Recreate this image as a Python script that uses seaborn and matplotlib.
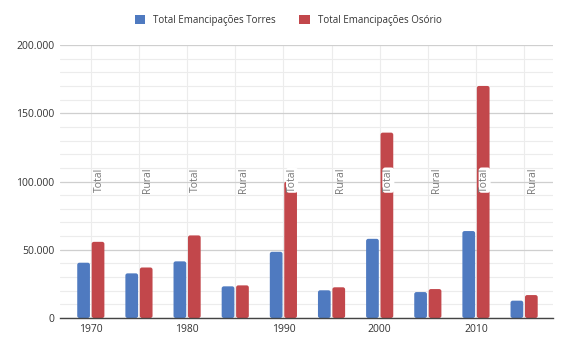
import matplotlib
matplotlib.use("Agg")
import matplotlib.pyplot as plt
import seaborn as sns
import pandas as pd
import numpy as np
from matplotlib.patches import FancyBboxPatch
from matplotlib.ticker import FuncFormatter, MultipleLocator

decades = ["1970", "1980", "1990", "2000", "2010"]
kinds = ["Total", "Rural"]
categories = [f"{d} {k}" for d in decades for k in kinds]
torres = [40500, 32700, 41500, 23200, 48500, 20300, 58000, 19000, 63700, 12700]
osorio = [55800, 37000, 60500, 23900, 99800, 22500, 135800, 21200, 170000, 16800]
series_names = ["Total Emancipações Torres", "Total Emancipações Osório"]
colors = ["#4F7AC0", "#C2474B"]

df = pd.DataFrame({
    "cat": categories * 2,
    "value": torres + osorio,
    "serie": [series_names[0]] * len(categories) + [series_names[1]] * len(categories),
})

sns.set_theme(style="white")
plt.rcParams["font.family"] = ["Open Sans", "DejaVu Sans"]

fig = plt.figure(figsize=(5.67, 3.48), dpi=100)
ax = fig.add_axes([60 / 567, 1 - 318 / 348, (553 - 60) / 567, (318 - 45) / 348])

sns.barplot(data=df, x="cat", y="value", hue="serie", order=categories,
            hue_order=series_names, palette=colors, width=0.6, gap=0.12,
            saturation=1, ax=ax, legend=True, zorder=3,
            linewidth=0, edgecolor="none")

ax.set_ylim(0, 200000)
ax.set_xlim(-0.64, 9.6)

# rounded bar tops
px_x = (553 - 60) / (9.6 + 0.64)      # px per x unit
px_y = (318 - 45) / 200000            # px per y unit
aspect = px_x / px_y
for p in list(ax.patches):
    x, y = p.get_x(), p.get_y()
    w, h = p.get_width(), p.get_height()
    if h <= 0:
        continue
    fb = FancyBboxPatch((x, y), w, h,
                        boxstyle="round,pad=0,rounding_size=0.045",
                        mutation_aspect=aspect, fc=p.get_facecolor(),
                        ec="none", zorder=3)
    p.set_visible(False)
    ax.add_patch(fb)

ax.yaxis.set_major_locator(MultipleLocator(50000))
ax.yaxis.set_minor_locator(MultipleLocator(10000))
ax.yaxis.set_major_formatter(FuncFormatter(lambda v, p: f"{int(v):,}".replace(",", ".")))
ax.grid(axis="y", which="major", color="#cfcfcf", lw=0.9, zorder=0)
ax.grid(axis="y", which="minor", color="#ececec", lw=0.8, zorder=0)
for i in range(len(categories)):
    ax.axvline(i, color="#ececec", lw=0.8, zorder=0)

ax.set_xticks(range(len(categories)))
ax.set_xticklabels([c.split()[0] if c.endswith("Total") else "" for c in categories])
ax.tick_params(axis="both", length=0, labelsize=7.5, labelcolor="#333333", pad=4)
ax.set_xlabel("")
ax.set_ylabel("")
for s in ["left", "right", "top"]:
    ax.spines[s].set_visible(False)
ax.spines["bottom"].set_color("#444444")
ax.spines["bottom"].set_linewidth(1.0)
ax.spines["bottom"].set_zorder(4)

for i, c in enumerate(categories):
    kind = c.split()[1]
    over = osorio[i] > 95000
    kw = {}
    if over:
        kw["bbox"] = dict(boxstyle="round,pad=0.05,rounding_size=0.3", fc="white", ec="none")
    ax.text(i + 0.18, 101000, kind, rotation=90, ha="center", va="center",
            fontsize=7.5, color="#777777", zorder=5, **kw)

handles, labels = ax.get_legend_handles_labels()
ax.legend_.remove()
fig.legend(handles, labels, loc="center", bbox_to_anchor=(0.508, 1 - 20 / 348),
           ncol=2, frameon=False, fontsize=7, handlelength=1.1, handleheight=1.1,
           columnspacing=2.4, handletextpad=0.8, labelcolor="#333333")

fig.savefig("out.png", dpi=100)
